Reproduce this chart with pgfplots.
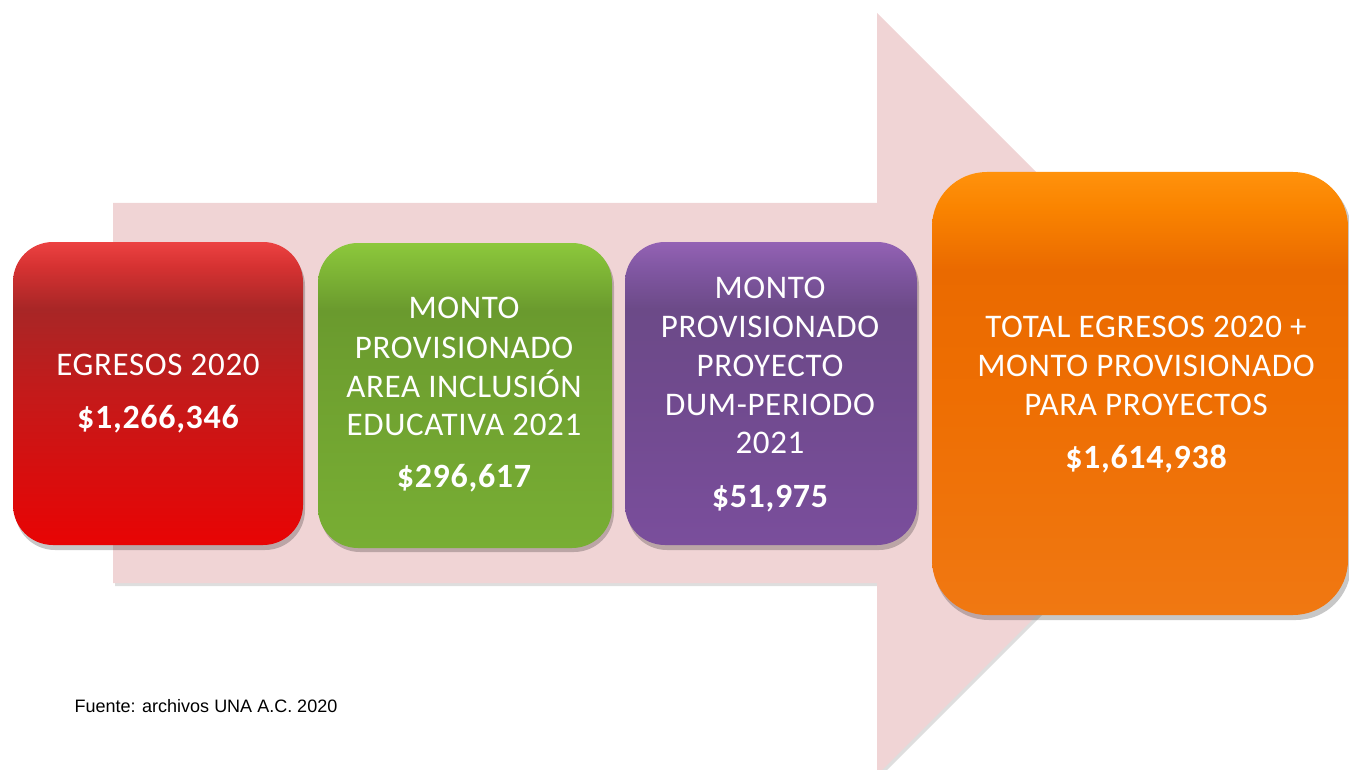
\documentclass[border=0pt]{standalone}
\usepackage{pgfplots}
\pgfplotsset{compat=1.18}
\usepackage{fontspec}
\setmainfont{Carlito}
\newfontfamily\boxfont[LetterSpace=2]{Carlito}
\newfontfamily\boxbold[LetterSpace=2]{Carlito Bold}
\newfontfamily\arialfont{Liberation Sans}

\definecolor{arrowpink}{HTML}{F0D4D5}
\definecolor{redT}{HTML}{EC4242}
\definecolor{redT2}{HTML}{D63232}
\definecolor{redD}{HTML}{A82626}
\definecolor{redM}{HTML}{C41A1A}
\definecolor{redB}{HTML}{E80404}
\definecolor{grnT}{HTML}{8CC83C}
\definecolor{grnT2}{HTML}{80B836}
\definecolor{grnD}{HTML}{6A9A2E}
\definecolor{grnM}{HTML}{70A230}
\definecolor{grnB}{HTML}{78AE34}
\definecolor{purT}{HTML}{9462B4}
\definecolor{purT2}{HTML}{8258A4}
\definecolor{purD}{HTML}{6C4A88}
\definecolor{purM}{HTML}{704A8E}
\definecolor{purB}{HTML}{7A4E9C}
\definecolor{orT}{HTML}{FF920C}
\definecolor{orT2}{HTML}{FA8400}
\definecolor{orD}{HTML}{EA6A00}
\definecolor{orM}{HTML}{EE6E02}
\definecolor{orB}{HTML}{F07812}

\pgfdeclareverticalshading{redbox}{100bp}{color(0bp)=(redB); color(25bp)=(redB); color(50bp)=(redM); color(64bp)=(redD); color(71bp)=(redT2); color(75bp)=(redT); color(100bp)=(redT)}
\pgfdeclareverticalshading{grnbox}{100bp}{color(0bp)=(grnB); color(25bp)=(grnB); color(50bp)=(grnM); color(64bp)=(grnD); color(71bp)=(grnT2); color(75bp)=(grnT); color(100bp)=(grnT)}
\pgfdeclareverticalshading{purbox}{100bp}{color(0bp)=(purB); color(25bp)=(purB); color(50bp)=(purM); color(64bp)=(purD); color(71bp)=(purT2); color(75bp)=(purT); color(100bp)=(purT)}
\pgfdeclareverticalshading{orbox}{100bp}{color(0bp)=(orB); color(25bp)=(orB); color(50bp)=(orM); color(64bp)=(orD); color(71bp)=(orT2); color(75bp)=(orT); color(100bp)=(orT)}

\tikzset{
  txt/.style={anchor=base, text=white, font=\boxfont\fontsize{33}{39}\selectfont},
  val/.style={anchor=base, text=white, font=\boxbold\fontsize{34}{40}\selectfont},
}

\begin{document}
\begin{tikzpicture}
\begin{axis}[
  width=1349pt, height=770pt, scale only axis,
  xmin=0, xmax=1349, ymin=0, ymax=770, y dir=reverse,
  hide axis, clip=true,
]
% arrow shadow and arrow
\addplot[fill=black!13, draw=none] coordinates {(115,206)(879,206)(879,16)(1260,397)(879,778)(879,586)(115,586)} -- cycle;
\addplot[fill=arrowpink, draw=none] coordinates {(113,203)(877,203)(877,13)(1258,394)(877,775)(877,583)(113,583)} -- cycle;

% box shadows
\addplot[fill=black, fill opacity=0.22, draw=none, rounded corners=40pt] coordinates {(158,246)(305,246)(305,550)(15,550)(15,246)} -- cycle;
\addplot[fill=black, fill opacity=0.22, draw=none, rounded corners=40pt] coordinates {(465,246)(614,246)(614,552)(320,552)(320,246)} -- cycle;
\addplot[fill=black, fill opacity=0.22, draw=none, rounded corners=40pt] coordinates {(771,246)(919,246)(919,550)(627,550)(627,246)} -- cycle;
\addplot[fill=black, fill opacity=0.22, draw=none, rounded corners=55pt] coordinates {(1140,176)(1351,176)(1351,620)(934,620)(934,176)} -- cycle;

% boxes
\addplot[shading=redbox, shade, draw=none, rounded corners=40pt] coordinates {(158,242)(303,242)(303,545)(13,545)(13,242)} -- cycle;
\addplot[shading=grnbox, shade, draw=none, rounded corners=40pt] coordinates {(465,243)(612,243)(612,548)(318,548)(318,243)} -- cycle;
\addplot[shading=purbox, shade, draw=none, rounded corners=40pt] coordinates {(771,242)(917,242)(917,545)(625,545)(625,242)} -- cycle;
\addplot[shading=orbox, shade, draw=none, rounded corners=55pt] coordinates {(1140,172)(1348,172)(1348,615)(932,615)(932,172)} -- cycle;

% red text
\node[txt] at (axis cs:158,375) {EGRESOS 2020};
\node[val] at (axis cs:158,428) {\$1,266,346};
% green text
\node[txt] at (axis cs:464,318) {MONTO};
\node[txt] at (axis cs:464,358) {PROVISIONADO};
\node[txt] at (axis cs:464,397) {AREA INCLUSIÓN};
\node[txt] at (axis cs:464,435) {EDUCATIVA 2021};
\node[val] at (axis cs:464,487) {\$296,617};
% purple text
\node[txt] at (axis cs:770,298) {MONTO};
\node[txt] at (axis cs:770,337) {PROVISIONADO};
\node[txt] at (axis cs:770,376) {PROYECTO};
\node[txt] at (axis cs:770,415) {DUM-PERIODO};
\node[txt] at (axis cs:770,453) {2021};
\node[val] at (axis cs:770,507) {\$51,975};
% orange text
\node[txt] at (axis cs:1146,337) {TOTAL EGRESOS 2020 +};
\node[txt] at (axis cs:1146,376) {MONTO PROVISIONADO};
\node[txt] at (axis cs:1146,415) {PARA PROYECTOS};
\node[val] at (axis cs:1146,468) {\$1,614,938};

% source
\node[anchor=base west, text=black, font=\arialfont\fontsize{18}{22}\selectfont] at (axis cs:71,712) {Fuente: archivos UNA A.C. 2020};
\end{axis}
\pgfresetboundingbox
\path (current axis.south west) rectangle (current axis.north east);
\end{tikzpicture}
\end{document}
